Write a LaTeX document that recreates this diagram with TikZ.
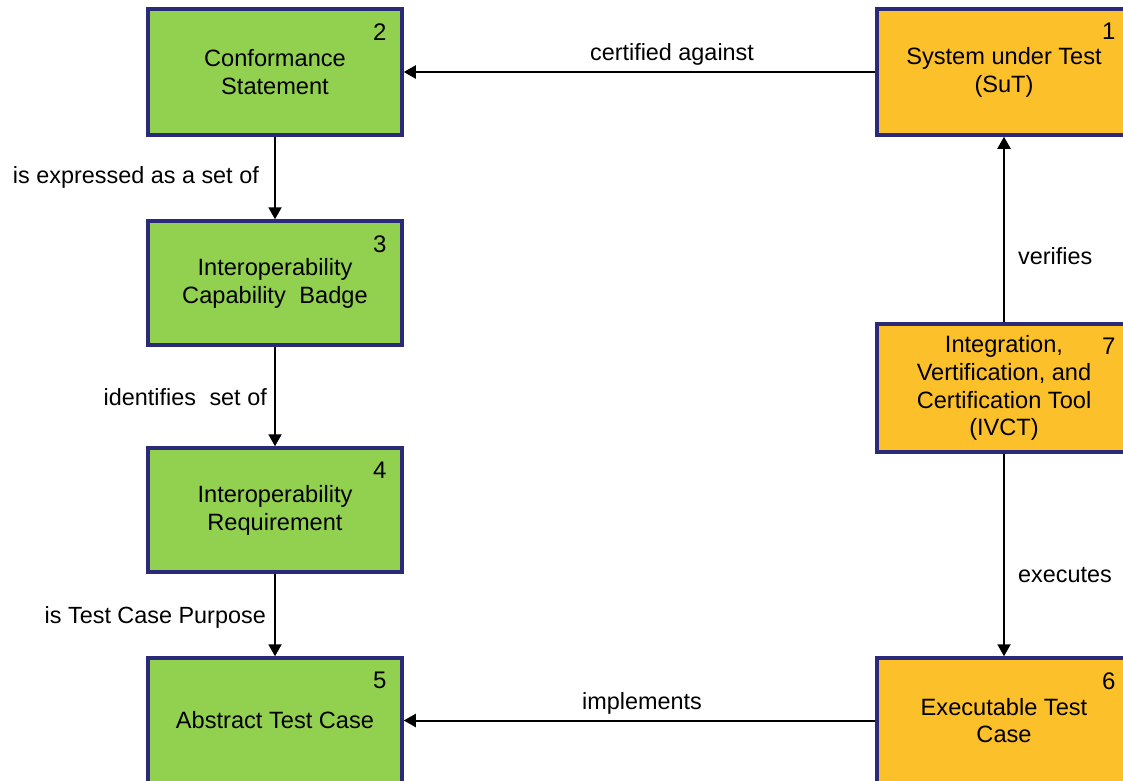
\documentclass[tikz,border=0pt]{standalone}
\usepackage{fontspec}
\setmainfont{Liberation Sans}
\usetikzlibrary{arrows.meta,calc}
\definecolor{boxgreen}{HTML}{92D050}
\definecolor{boxgold}{HTML}{FBC02A}
\definecolor{boxline}{HTML}{2B2A78}

\begin{document}
\begin{tikzpicture}[x=1pt,y=-1pt,
  entity/.style={draw=boxline, line width=3.5pt, minimum width=254pt,
    inner sep=0pt, align=center, font=\fontsize{23.6}{27.8}\selectfont},
  spec/.style={entity, fill=boxgreen},
  tool/.style={entity, fill=boxgold},
  idx/.style={anchor=north east, inner sep=0pt, font=\fontsize{24}{24}\selectfont},
  rel/.style={-{Triangle[length=12pt,width=13pt]}, line width=2pt},
  lbl/.style={inner sep=0pt, font=\fontsize{23.4}{27}\selectfont}
]
\useasboundingbox (0,0) rectangle (1123,780);
\fill[white] (0,0) rectangle (1123,780);
\clip (0,0) rectangle (1123,780);

% specification chain (left column)
\node[spec, minimum height=126pt] (b2) at (275,72)    {Conformance\\Statement};
\node[spec, minimum height=124pt] (b3) at (275,283)   {Interoperability\\Capability\hspace{0.3em} Badge};
\node[spec, minimum height=124pt] (b4) at (275,510)   {Interoperability\\Requirement};
\node[spec, minimum height=125pt] (b5) at (275,720.5) {Abstract Test Case};

% test side (right column)
\node[tool, minimum height=126pt] (b1) at (1004,72)    {System under Test\\(SuT)};
\node[tool, minimum height=128pt] (b7) at (1004,388)   {Integration,\\Vertification, and\\Certification Tool\\(IVCT)};
\node[tool, minimum height=125pt] (b6) at (1004,720.5) {Executable Test\\Case};

% index numbers
\node[idx] (n2) at ($(b2.north east)+(-17,16)$) {2};
\node[idx] (n3) at ($(b3.north east)+(-17,16)$) {3};
\node[idx] (n4) at ($(b4.north east)+(-17,16)$) {4};
\node[idx] (n5) at ($(b5.north east)+(-17,16)$) {5};
\node[idx] (n1) at ($(b1.north east)+(-17,16)$) {1};
\node[idx] (n7) at ($(b7.north east)+(-17,16)$) {7};
\node[idx] (n6) at ($(b6.north east)+(-17,16)$) {6};

% relations
\draw[rel] (b1.west)  -- (b2.east);
\draw[rel] (b2.south) -- (b3.north);
\draw[rel] (b3.south) -- (b4.north);
\draw[rel] (b4.south) -- (b5.north);
\draw[rel] (b7.north) -- (b1.south);
\draw[rel] (b7.south) -- (b6.north);
\draw[rel] (b6.west)  -- (b5.east);

% relation labels
\node[lbl] (l12) at (672,54) {certified against};
\node[lbl, anchor=east] (l23) at (259,177) {is expressed as a set of};
\node[lbl, anchor=east] (l34) at (267,397) {identifies\hspace{0.3em} set of};
\node[lbl, anchor=east] (l45) at (266,617) {is Test Case Purpose};
\node[lbl, anchor=west] (l71) at (1018,256) {verifies};
\node[lbl, anchor=west] (l76) at (1018,575) {executes};
\node[lbl] (l65) at (642,703) {implements};
\end{tikzpicture}
\end{document}
